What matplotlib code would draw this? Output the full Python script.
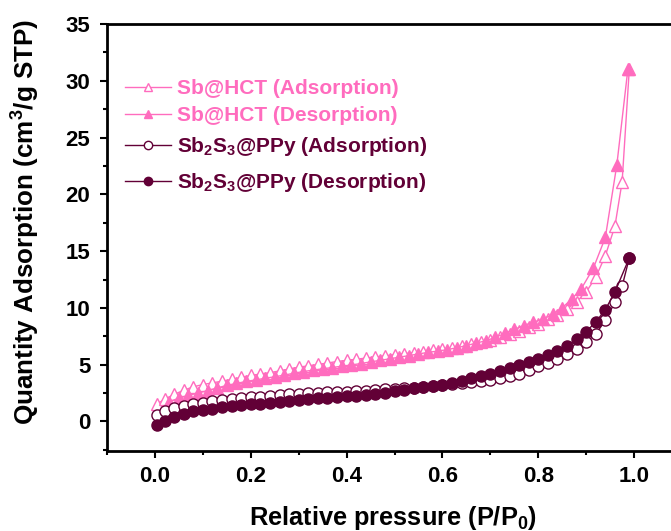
import matplotlib
matplotlib.use("Agg")
import matplotlib.pyplot as plt
from matplotlib.ticker import MultipleLocator

plt.rcParams['font.family'] = ['Liberation Sans', 'DejaVu Sans']
plt.rcParams['font.weight'] = 'bold'
plt.rcParams['mathtext.fontset'] = 'custom'
plt.rcParams['mathtext.rm'] = 'Liberation Sans:bold'
plt.rcParams['mathtext.bf'] = 'Liberation Sans:bold'
plt.rcParams['mathtext.it'] = 'Liberation Sans:bold'
plt.rcParams['mathtext.default'] = 'bf'

# ---------------- data ----------------
# Sb@HCT adsorption (open triangles)
hct_ads_p = [0.005, 0.02, 0.04, 0.06, 0.08, 0.10, 0.12, 0.14, 0.16, 0.18,
             0.20, 0.22, 0.24, 0.26, 0.28, 0.30, 0.32, 0.34, 0.36, 0.38,
             0.40, 0.42, 0.44, 0.46, 0.48, 0.50, 0.52, 0.54, 0.56, 0.58,
             0.60, 0.62, 0.64, 0.66, 0.68, 0.70, 0.72, 0.74, 0.76, 0.78,
             0.80, 0.82, 0.84, 0.86, 0.88, 0.90, 0.92, 0.94, 0.96, 0.975, 0.99]
hct_ads_v = [1.56, 1.95, 2.38, 2.75, 3.05, 3.25, 3.40, 3.55, 3.70, 3.88,
             4.05, 4.18, 4.30, 4.45, 4.62, 4.78, 4.90, 5.02, 5.15, 5.28,
             5.38, 5.48, 5.58, 5.68, 5.78, 5.88, 5.97, 6.06, 6.15, 6.25,
             6.36, 6.48, 6.62, 6.78, 6.96, 7.16, 7.40, 7.68, 8.00, 8.30,
             8.62, 8.98, 9.40, 9.90, 10.55, 11.40, 12.70, 14.60, 17.2, 21.1, 31.0]

# Sb@HCT desorption (filled triangles)
hct_des_p = [0.03, 0.05, 0.07, 0.09, 0.11, 0.13, 0.15, 0.17, 0.19, 0.21,
             0.23, 0.25, 0.27, 0.29, 0.31, 0.33, 0.35, 0.37, 0.39, 0.41,
             0.43, 0.45, 0.47, 0.49, 0.51, 0.53, 0.55, 0.57, 0.59, 0.61,
             0.63, 0.65, 0.67, 0.69, 0.71, 0.73, 0.75, 0.77, 0.79, 0.81,
             0.83, 0.85, 0.87, 0.89, 0.915, 0.94, 0.964, 0.987]
hct_des_v = [1.75, 2.05, 2.30, 2.50, 2.72, 2.95, 3.18, 3.35, 3.52, 3.66,
             3.80, 3.94, 4.08, 4.25, 4.40, 4.52, 4.64, 4.75, 4.87, 4.98,
             5.10, 5.25, 5.38, 5.52, 5.66, 5.80, 5.95, 6.08, 6.20, 6.32,
             6.50, 6.68, 6.90, 7.10, 7.40, 7.75, 8.10, 8.45, 8.75, 9.00,
             9.45, 10.0, 10.8, 11.7, 13.5, 16.2, 22.6, 31.0]

# Sb2S3@PPy adsorption (open circles)
ppy_ads_p = [0.005, 0.02, 0.04, 0.06, 0.08, 0.10, 0.12, 0.14, 0.16, 0.18,
             0.20, 0.22, 0.24, 0.26, 0.28, 0.30, 0.32, 0.34, 0.36, 0.38,
             0.40, 0.42, 0.44, 0.46, 0.48, 0.50, 0.52, 0.54, 0.56, 0.58,
             0.60, 0.62, 0.64, 0.66, 0.68, 0.70, 0.72, 0.74, 0.76, 0.78,
             0.80, 0.82, 0.84, 0.86, 0.88, 0.90, 0.92, 0.94, 0.96, 0.975, 0.99]
ppy_ads_v = [0.53, 0.90, 1.18, 1.36, 1.52, 1.66, 1.76, 1.85, 1.94, 2.04,
             2.12, 2.18, 2.24, 2.31, 2.38, 2.44, 2.48, 2.52, 2.56, 2.59,
             2.63, 2.67, 2.72, 2.77, 2.82, 2.87, 2.93, 2.99, 3.06, 3.13,
             3.20, 3.28, 3.36, 3.45, 3.55, 3.66, 3.80, 3.97, 4.20, 4.50,
             4.85, 5.15, 5.50, 5.90, 6.40, 7.00, 7.70, 8.90, 10.5, 11.9, 14.4]

# Sb2S3@PPy desorption (filled circles)
ppy_des_p = [0.005, 0.02, 0.04, 0.06, 0.08, 0.10, 0.12, 0.14, 0.16, 0.18,
             0.20, 0.22, 0.24, 0.26, 0.28, 0.30, 0.32, 0.34, 0.36, 0.38,
             0.40, 0.42, 0.44, 0.46, 0.48, 0.50, 0.52, 0.54, 0.56, 0.58,
             0.60, 0.62, 0.64, 0.66, 0.68, 0.70, 0.72, 0.74, 0.76, 0.78,
             0.80, 0.82, 0.84, 0.86, 0.88, 0.90, 0.92, 0.94, 0.96, 0.99]
ppy_des_v = [-0.30, 0.05, 0.42, 0.68, 0.88, 1.04, 1.14, 1.24, 1.33, 1.42,
             1.50, 1.58, 1.66, 1.75, 1.84, 1.91, 1.98, 2.04, 2.10, 2.16,
             2.22, 2.27, 2.33, 2.42, 2.52, 2.64, 2.78, 2.92, 3.04, 3.13,
             3.24, 3.38, 3.58, 3.80, 3.98, 4.18, 4.45, 4.72, 4.98, 5.24,
             5.52, 5.84, 6.20, 6.65, 7.28, 7.92, 8.75, 9.85, 11.4, 14.4]

labels = ["Sb@HCT (Adsorption)", "Sb@HCT (Desorption)",
          "Sb$_2$S$_3$@PPy (Adsorption)", "Sb$_2$S$_3$@PPy (Desorption)"]
x_ticks = [0.0, 0.2, 0.4, 0.6, 0.8, 1.0]
y_ticks = [0, 5, 10, 15, 20, 25, 30, 35]

PINK = '#FF6CBE'
DARK = '#620036'

W, H = 671, 531
fig = plt.figure(figsize=(W / 100, H / 100), dpi=100)
left, right, top, bottom = 107, 682, 24, 451
ax = fig.add_axes([left / W, 1 - bottom / H, (right - left) / W, (bottom - top) / H])

ms = 8
h1, = ax.plot(hct_ads_p, hct_ads_v, color=PINK, lw=1.0, marker='^', ms=ms,
              mfc='white', mec=PINK, mew=1.0, label=labels[0])
h2, = ax.plot(hct_des_p, hct_des_v, color=PINK, lw=1.0, marker='^', ms=ms,
              mfc=PINK, mec=PINK, mew=1.0, label=labels[1])
h3, = ax.plot(ppy_ads_p, ppy_ads_v, color=DARK, lw=1.0, marker='o', ms=ms,
              mfc='white', mec=DARK, mew=1.0, label=labels[2])
h4, = ax.plot(ppy_des_p, ppy_des_v, color=DARK, lw=1.0, marker='o', ms=ms,
              mfc=DARK, mec=DARK, mew=1.0, label=labels[3])

ax.set_xlim(-0.1, 1.1)
ax.set_ylim(-2.6, 35)
ax.set_xticks(x_ticks)
ax.set_xticklabels([f"{t:.1f}" for t in x_ticks])
ax.set_yticks(y_ticks)
ax.xaxis.set_minor_locator(MultipleLocator(0.1))
ax.yaxis.set_minor_locator(MultipleLocator(2.5))
ax.tick_params(which='major', direction='out', length=5, width=1.5, labelsize=16, pad=6)
ax.tick_params(which='minor', direction='out', length=3, width=1.5)
ax.tick_params(axis='y', which='major', pad=7)
for s in ax.spines.values():
    s.set_linewidth(2)

ax.set_xlabel("Relative pressure (P/P$_0$)", fontsize=18.3, fontweight='bold')
ax.set_ylabel("Quantity Adsorption (cm$^3$/g STP)", fontsize=18.7, fontweight='bold')
axw, axh = right - left, bottom - top
ax.xaxis.set_label_coords((393 - left) / axw, -(518 - bottom) / axh)
ax.yaxis.set_label_coords(-(left - 26) / axw, (bottom - 222) / axh)
ax.xaxis.label.set_va('center')
ax.yaxis.label.set_va('center')

leg1 = ax.legend(handles=[h1, h2], loc='upper left', frameon=False, fontsize=15,
                 bbox_to_anchor=(125 / W, 1 - 79 / H), bbox_transform=fig.transFigure,
                 borderpad=0, borderaxespad=0, handlelength=2.2, handletextpad=0.3,
                 labelspacing=0.4, markerscale=0.75)
for t in leg1.get_texts():
    t.set_color(PINK)
ax.add_artist(leg1)
leg2 = ax.legend(handles=[h3, h4], loc='upper left', frameon=False, fontsize=15,
                 bbox_to_anchor=(125 / W, 1 - 135 / H), bbox_transform=fig.transFigure,
                 borderpad=0, borderaxespad=0, handlelength=2.2, handletextpad=0.3,
                 labelspacing=0.62, markerscale=0.75)
for t in leg2.get_texts():
    t.set_color(DARK)

fig.savefig("out.png", dpi=100)
